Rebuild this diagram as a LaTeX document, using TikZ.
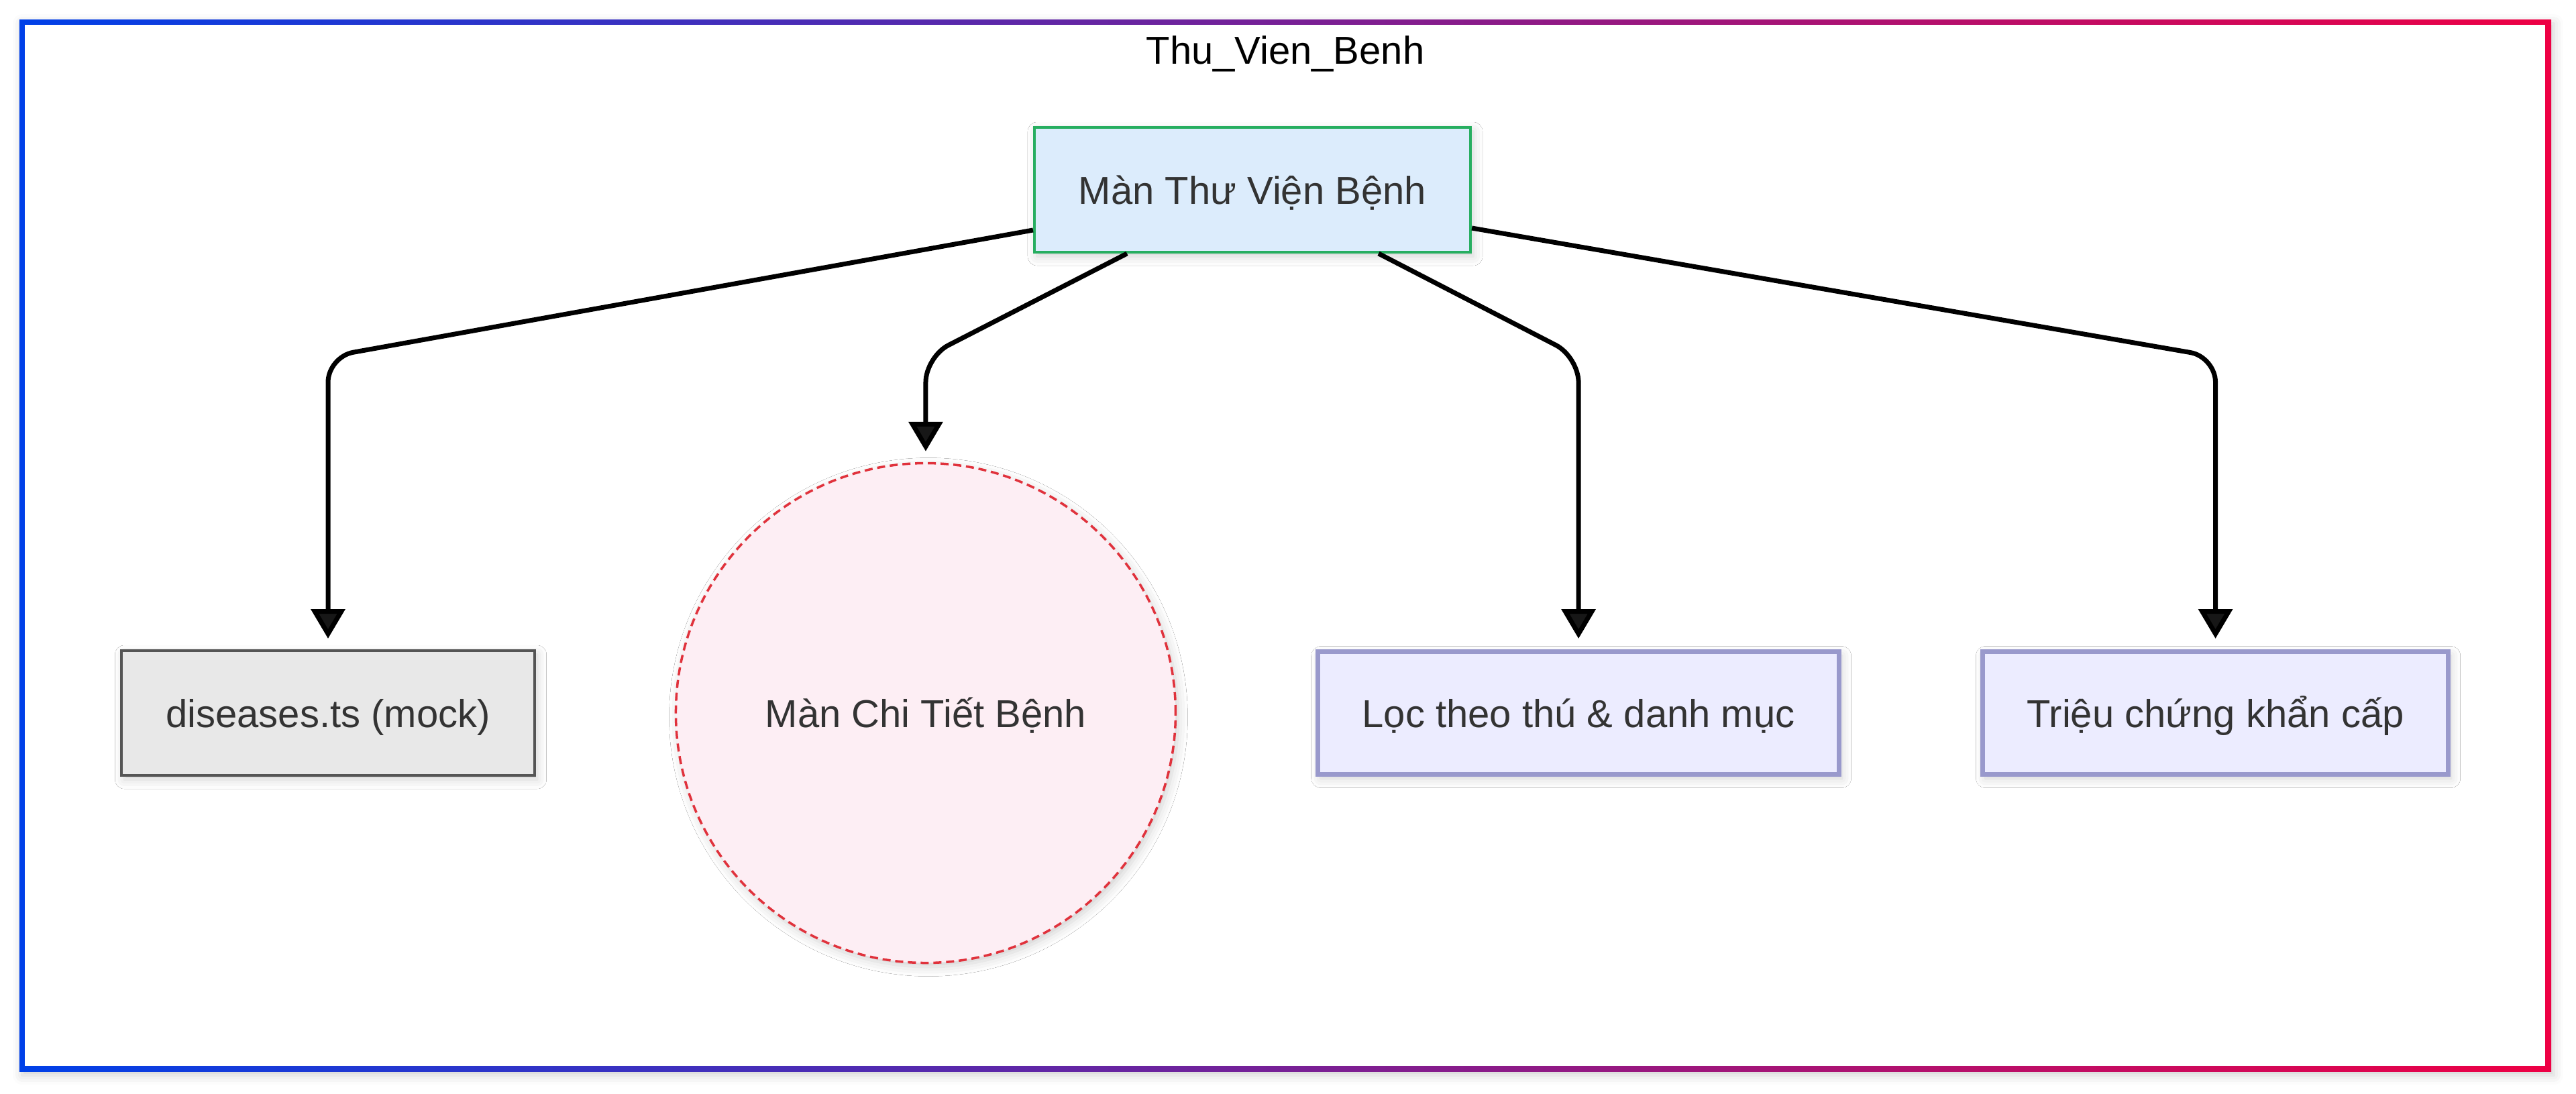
\documentclass[tikz,border=0pt]{standalone}
\usepackage{fontspec}
\setmainfont{Liberation Sans}
\usepackage{xcolor}
\usepackage{tikz}
\usetikzlibrary{calc,positioning,arrows.meta,shadows.blur}

\definecolor{frameblue}{HTML}{0040E8}
\definecolor{framered}{HTML}{EE0044}
\definecolor{screenfill}{HTML}{DCECFC}
\definecolor{screenline}{HTML}{27AE60}
\definecolor{mockfill}{HTML}{E8E8E8}
\definecolor{mockline}{HTML}{555555}
\definecolor{detailfill}{HTML}{FDEEF4}
\definecolor{detailline}{HTML}{E0323C}
\definecolor{featfill}{HTML}{ECECFF}
\definecolor{featline}{HTML}{9999CC}
\definecolor{labeltext}{HTML}{333333}

\begin{document}
\begin{tikzpicture}[
  base/.style={font=\fontsize{16.5pt}{19.8pt}\selectfont, text=labeltext, text height=0.42cm, text depth=0cm, align=center},
  shadowed/.style={blur shadow={shadow xshift=0.04cm, shadow yshift=-0.06cm, shadow blur radius=0.14cm, shadow opacity=18}},
  screen/.style={base, shadowed, draw=screenline, fill=screenfill, line width=0.04cm, inner xsep=0.66cm, minimum height=1.86cm},
  mock/.style={base, shadowed, draw=mockline, fill=mockfill, line width=0.04cm, inner xsep=0.66cm, minimum height=1.86cm},
  detail/.style={base, shadowed, circle, draw=detailline, fill=detailfill, line width=0.035cm, dash pattern=on 0.12cm off 0.07cm, minimum size=7.45cm},
  feature/.style={base, shadowed, draw=featline, fill=featfill, line width=0.07cm, inner xsep=0.66cm, minimum height=1.83cm},
  arr/.style={-{Triangle[length=0.44cm,width=0.5cm]}, line width=0.07cm, rounded corners=0.38cm, shorten >=0.16cm}
]
\useasboundingbox (0,0) rectangle (38.4,-16.3);

% outer frame with colour ramp
\shade[shadowed, left color=frameblue, right color=framered] (0.29,-0.29) rectangle (38.03,-15.97);
\fill[white] (0.37,-0.37) rectangle (37.94,-15.89);
\node[base, text=black] (title) at (19.16,-0.74) {Thu\_Vien\_Benh};

\node[screen] (library) at (18.67,-2.83) {Màn Thư Viện Bệnh};
\node[mock] (diseases) at (4.89,-10.63) {diseases.ts (mock)};
\node[detail, right=2.07cm of diseases] (detail) {Màn Chi Tiết Bệnh};
\node[feature, right=2.07cm of detail] (filter) {Lọc theo thú \& danh mục};
\node[feature, right=2.07cm of filter] (urgent) {Triệu chứng khẩn cấp};

\coordinate (bend) at (0,-5.32);
\draw[arr] ($(library.west)+(0,-0.6)$) -- (diseases.north |- bend) -- (diseases);
\draw[arr] ($(library.south)+(-1.87,0)$) -- (detail.north |- bend) -- (detail);
\draw[arr] ($(library.south)+(1.88,0)$) -- (filter.north |- bend) -- (filter);
\draw[arr] ($(library.east)+(0,-0.57)$) -- (urgent.north |- bend) -- (urgent);
\end{tikzpicture}
\end{document}
